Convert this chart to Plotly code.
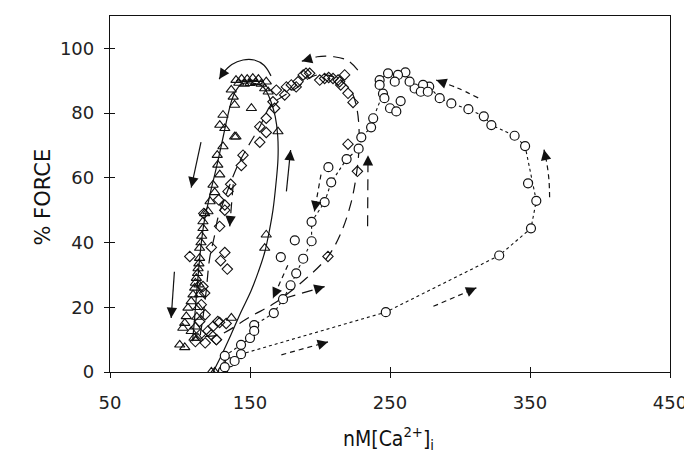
import plotly.graph_objects as go

# ---------------- data (nM [Ca2+]i , % force) ----------------
# triangles
tri_x = [122.4, 124.8, 136.7, 160.5, 161.6, 170.0, 163.0, 161.6, 160.5, 158.0, 156.0, 154.0, 152.0,
         150.0, 148.0, 146.0, 144.0, 142.0, 140.0, 151.0, 140.0, 136.6, 138.0, 139.0, 130.7, 128.4,
         132.0, 139.0, 130.7, 126.6, 127.0, 128.4, 123.6, 124.8, 121.5, 120.0, 117.6, 116.4, 116.4,
         115.0, 115.5, 114.0, 114.0, 113.5, 112.9, 112.5, 111.7, 111.0, 110.5, 113.5, 109.3, 114.0,
         108.0, 113.0, 105.7, 112.0, 104.5, 103.4, 111.0, 102.0, 108.0, 110.0, 112.8, 99.8, 103.4]
tri_y = [0.0, 0.0, 16.7, 38.3, 42.4, 74.3, 86.6, 89.7, 87.6, 89.0, 90.5, 89.5, 90.8,
         89.2, 90.5, 89.0, 90.6, 89.3, 90.2, 81.5, 72.7, 87.2, 85.0, 82.5, 79.4, 76.3,
         75.3, 72.7, 69.7, 67.0, 64.0, 61.0, 57.8, 55.5, 52.7, 49.6, 49.0, 46.5, 44.4,
         40.0, 42.0, 38.3, 35.2, 33.5, 32.0, 30.5, 29.0, 27.5, 26.0, 27.0, 23.9, 24.0,
         21.8, 20.0, 19.8, 17.0, 17.2, 15.1, 14.0, 13.6, 12.6, 10.5, 10.5, 8.4, 7.6]

# diamonds
dia_x = [126.0, 127.0, 133.0, 205.7, 226.7, 220.0, 223.6, 220.0, 214.0, 214.8, 217.6, 212.9, 209.3,
         206.2, 203.3, 199.8, 192.6, 190.0, 188.0, 184.3, 183.0, 179.5, 176.0, 174.8, 168.8, 166.4,
         167.6, 161.6, 157.0, 161.6, 157.0, 145.0, 143.8, 136.2, 134.3, 132.0, 127.6, 117.0, 132.0,
         128.3, 122.4, 132.0, 129.0, 133.8, 107.0, 116.4, 117.6, 115.2, 118.0, 114.0, 128.3, 123.6,
         120.0, 114.7, 122.4, 118.0, 126.0, 111.0]
dia_y = [10.0, 15.6, 15.0, 35.7, 62.0, 70.4, 83.3, 86.1, 89.7, 88.7, 91.8, 90.2, 90.7,
         91.0, 90.7, 90.2, 92.3, 92.3, 91.8, 89.7, 88.1, 88.7, 88.1, 85.6, 87.1, 83.5,
         81.5, 78.4, 75.8, 74.0, 71.0, 67.0, 63.8, 58.0, 55.8, 51.6, 53.2, 49.0, 50.0,
         45.0, 38.5, 36.9, 34.4, 31.8, 35.7, 26.4, 24.4, 20.8, 17.7, 15.6, 15.3, 14.1,
         12.7, 11.7, 11.5, 9.0, 10.0, 9.4]

# circles joined by the dotted line (in loop order)
circ_x = [130.7, 135.5, 143.6, 247.0, 328.0, 350.7, 354.5, 346.5, 339.0, 322.4, 317.0, 306.0, 293.8,
          285.5, 278.0, 273.6, 267.6, 264.0, 261.0, 255.7, 248.6, 242.6, 245.0, 238.0, 236.5, 229.5,
          227.6, 219.0, 208.0, 203.3, 194.0, 194.0, 188.0, 183.0, 179.0, 173.6, 167.0, 153.0, 150.0,
          143.6, 132.0, 130.7]
circ_y = [0.3, 3.0, 5.5, 18.5, 36.0, 44.4, 52.9, 69.8, 73.0, 76.3, 79.0, 81.2, 83.0,
          84.6, 88.2, 88.7, 87.6, 89.7, 92.6, 91.8, 92.3, 90.2, 86.0, 78.4, 75.6, 72.5,
          69.0, 65.8, 58.6, 52.5, 46.4, 40.4, 35.0, 30.5, 26.8, 22.5, 18.2, 14.5, 10.5,
          8.4, 5.0, 0.3]
# circles lying off the dotted line
circ2_x = [132.0, 139.0, 153.0, 172.0, 182.0, 206.0, 250.0, 254.5, 257.6, 246.0, 242.6, 253.4,
           272.0, 277.0, 348.6]
circ2_y = [1.5, 3.4, 12.7, 35.5, 40.7, 63.3, 81.5, 80.5, 83.7, 84.6, 88.7, 89.7,
           86.6, 86.6, 58.3]

# hand-drawn guide curves
tri_guide_x = [123.6, 130.0, 136.4, 143.0, 150.7, 156.0, 160.5, 164.0, 166.4, 168.5, 170.0, 169.8,
               168.0, 165.0, 162.0, 159.0, 155.0, 150.0, 144.0, 140.0, 137.0, 134.0, 131.0, 128.0,
               124.8, 122.0, 120.0, 117.5, 115.5, 113.8, 112.0, 110.5, 109.0]
tri_guide_y = [0.0, 5.5, 11.5, 18.0, 25.0, 31.0, 37.0, 44.0, 50.0, 58.0, 66.0, 73.0,
               79.0, 83.5, 86.5, 88.3, 89.0, 89.3, 89.0, 87.0, 84.0, 79.0, 73.0, 67.0,
               61.0, 56.0, 52.0, 47.0, 41.0, 34.0, 25.0, 17.0, 9.5]
dia_guide_x = [115.0, 119.0, 128.3, 150.7, 167.6, 189.0, 205.7, 215.0, 222.0, 226.0, 228.0, 226.5,
               222.0, 213.0, 202.0, 193.0, 184.0, 175.0, 165.0, 157.0, 149.0, 141.4, 132.0, 127.0,
               124.8, 121.2, 118.7, 116.4, 115.0]
dia_guide_y = [10.5, 11.0, 11.5, 17.2, 21.3, 28.5, 35.7, 43.0, 52.0, 61.0, 71.0, 81.0,
               87.0, 90.5, 92.0, 91.0, 88.0, 85.6, 82.5, 75.8, 70.0, 64.0, 53.7, 47.5,
               42.4, 35.2, 25.0, 16.7, 10.5]

# direction arrows (last point = arrow head)
tri_arrows = [([165, 160, 153, 145, 137, 131, 128], [91.5, 94.8, 96.4, 96.4, 95.0, 92.5, 90.5]),
              ([115, 108], [71, 57]),
              ([96, 93.7], [31, 16.7]),
              ([176, 179], [55.8, 68.6])]
dia_arrows = [([227, 220, 210, 198, 187], [93.3, 96.2, 97.4, 97.4, 96.0]),
              ([138, 135.5], [58, 45]),
              ([234, 234.3], [45, 67]),
              ([174.8, 203.3], [22.8, 26.4])]
circ_arrows = [([313, 298, 283], [84.7, 87.8, 90.2]),
               ([364, 363.6, 362.2, 360], [54, 59, 64, 68.7]),
               ([200.7, 196], [61, 49.6]),
               ([177, 166.4], [33, 22.8]),
               ([172.4, 205.7], [5.3, 9.3]),
               ([281, 311.7], [20.3, 26])]

x_ticks = [50, 150, 250, 350, 450]
y_ticks = [0, 20, 40, 60, 80, 100]

# ---------------- figure ----------------
INK = "#111111"
FONT = "DejaVu Sans"
W_PX, H_PX = 560, 356
X0, X1, Y0, Y1 = 50, 450, 0, 110

fig = go.Figure()

fig.add_trace(go.Scatter(x=tri_guide_x, y=tri_guide_y, mode="lines", line=dict(color=INK, width=1.2, shape="spline"), hoverinfo="skip"))
fig.add_trace(go.Scatter(x=dia_guide_x, y=dia_guide_y, mode="lines", line=dict(color=INK, width=1.2, dash="11px,7px", shape="spline"), hoverinfo="skip"))
fig.add_trace(go.Scatter(x=circ_x, y=circ_y, mode="lines", line=dict(color=INK, width=1.1, dash="3px,3px"), hoverinfo="skip"))

ARROW_DASH = {"tri": None, "dia": "11px,7px", "circ": "5px,4px"}
annotations = []
for key, group in (("tri", tri_arrows), ("dia", dia_arrows), ("circ", circ_arrows)):
    for xs, ys in group:
        line = dict(color=INK, width=1.2)
        if ARROW_DASH[key]:
            line["dash"] = ARROW_DASH[key]
        fig.add_trace(go.Scatter(x=xs, y=ys, mode="lines", line=dict(line, shape="spline"), hoverinfo="skip"))
        hx, hy = xs[-1], ys[-1]
        px_, py_ = xs[-2], ys[-2]
        dxp = (hx - px_) * W_PX / (X1 - X0)
        dyp = (hy - py_) * H_PX / (Y1 - Y0)
        L = (dxp ** 2 + dyp ** 2) ** 0.5
        f = min(1.0, 6.0 / L)
        annotations.append(dict(x=hx, y=hy, ax=hx - f * (hx - px_), ay=hy - f * (hy - py_),
                                xref="x", yref="y", axref="x", ayref="y", text="", showarrow=True,
                                arrowhead=2, arrowsize=1.6, arrowwidth=1.3, arrowcolor=INK))

open_mk = dict(color=INK, line=dict(color=INK, width=1.1))
fill_mk = dict(color="white", line=dict(color=INK, width=1.2))
fig.add_trace(go.Scatter(x=tri_x, y=tri_y, mode="markers", marker=dict(open_mk, symbol="triangle-up-open", size=9)))
fig.add_trace(go.Scatter(x=dia_x, y=dia_y, mode="markers", marker=dict(open_mk, symbol="diamond-open", size=8)))
fig.add_trace(go.Scatter(x=circ_x, y=circ_y, mode="markers", marker=dict(fill_mk, symbol="circle", size=9)))
fig.add_trace(go.Scatter(x=circ2_x, y=circ2_y, mode="markers", marker=dict(fill_mk, symbol="circle", size=9)))
# invisible trace that anchors the overlay axes (inner half of the crossing ticks)
fig.add_trace(go.Scatter(x=[X0, X1], y=[Y0, Y1], xaxis="x2", yaxis="y2", mode="markers",
                         marker=dict(opacity=0, size=1), hoverinfo="skip"))

annotations.append(dict(text="% FORCE", xref="paper", yref="paper", x=(35 - 102) / 560, y=0.49,
                        xanchor="center", yanchor="middle", textangle=-90,
                        showarrow=False, font=dict(family=FONT, size=21, color=INK)))
annotations.append(dict(text="nM[Ca<sup>2+</sup>]<sub>i</sub>", xref="paper", yref="paper",
                        x=0.498, y=(364 - 430) / 356, xanchor="center", yanchor="middle",
                        showarrow=False, font=dict(family="DejaVu Sans Condensed, DejaVu Sans", size=21, color=INK)))

axis_common = dict(showgrid=False, zeroline=False, showline=True, linecolor=INK, linewidth=1.3,
                   mirror=True, ticks="outside", ticklen=5, tickwidth=1.2, tickcolor=INK,
                   tickfont=dict(family=FONT, size=18, color="#222222"))
overlay_common = dict(ticks="inside", ticklen=5, tickwidth=1.2, tickcolor=INK, showticklabels=False,
                      showgrid=False, zeroline=False, showline=False)
fig.update_layout(
    width=692, height=460,
    margin=dict(l=102, r=30, t=8, b=96),
    paper_bgcolor="white", plot_bgcolor="white",
    showlegend=False,
    xaxis=dict(axis_common, range=[X0, X1], tickvals=x_ticks, ticklabelstandoff=9),
    yaxis=dict(axis_common, range=[Y0, Y1], tickvals=y_ticks, ticklabelstandoff=6),
    xaxis2=dict(overlay_common, overlaying="x", range=[X0, X1], tickvals=x_ticks, side="bottom", anchor="y2"),
    yaxis2=dict(overlay_common, overlaying="y", range=[Y0, Y1], tickvals=y_ticks, side="left", anchor="x2"),
    annotations=annotations,
)

fig.write_html("out.html")
